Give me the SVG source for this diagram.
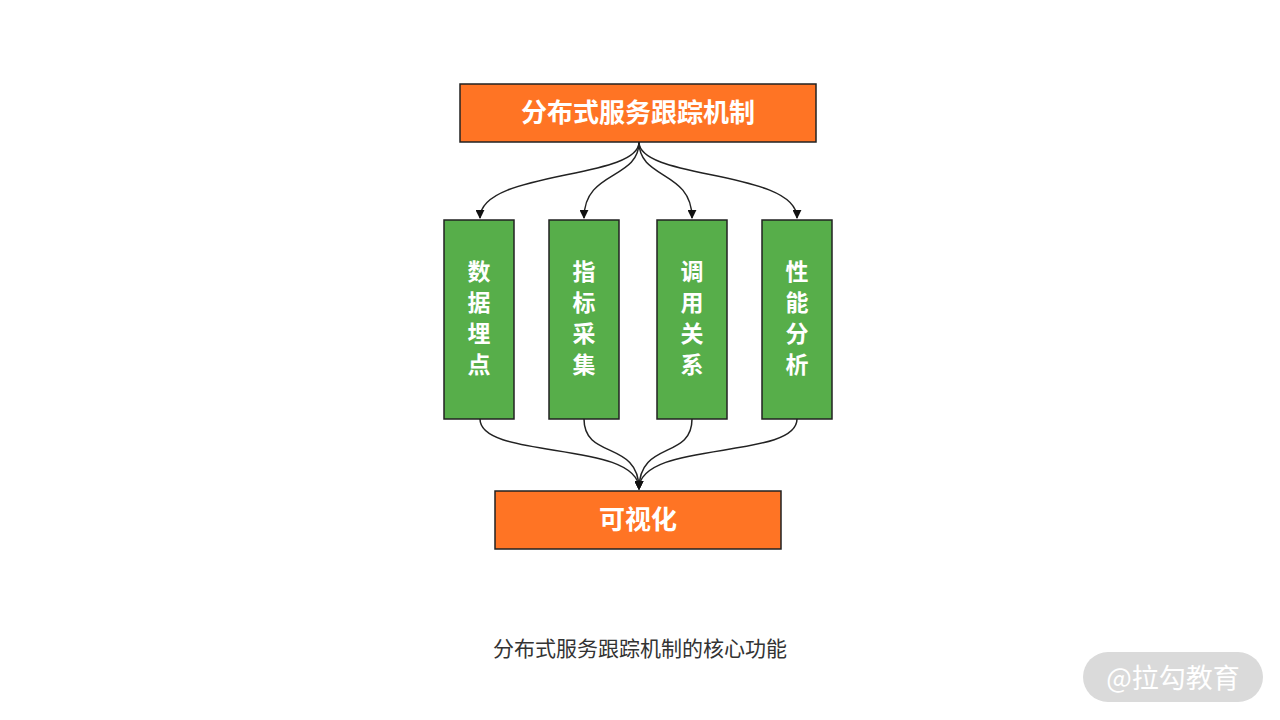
<svg xmlns="http://www.w3.org/2000/svg" width="1280" height="720" viewBox="0 0 1280 720">
<defs>
<style>
.orange{fill:#FF7424;stroke:#222;stroke-width:1.5}
.green{fill:#57AE4A;stroke:#222;stroke-width:1.5}
.lbl{font-family:"Noto Sans CJK SC","Liberation Sans",sans-serif;font-weight:bold;fill:#fff;text-anchor:middle}
.conn{fill:none;stroke:#222;stroke-width:1.5}
</style>
<marker id="arr" viewBox="0 0 10 10" refX="9" refY="5" markerWidth="9" markerHeight="9" markerUnits="userSpaceOnUse" orient="auto"><path d="M0,0 L10,5 L0,10 z" fill="#111"/></marker>
</defs>
<rect width="1280" height="720" fill="#fff"/>
<g id="connectors">
<path class="conn" d="M639,142 C639,180 480,170 480,218" marker-end="url(#arr)"/>
<path class="conn" d="M639,142 C639,180 584,170 584,218" marker-end="url(#arr)"/>
<path class="conn" d="M639,142 C639,180 692,170 692,218" marker-end="url(#arr)"/>
<path class="conn" d="M639,142 C639,180 797,170 797,218" marker-end="url(#arr)"/>
<path class="conn" d="M480,419 C480,460 639,440 639,489" marker-end="url(#arr)"/>
<path class="conn" d="M584,419 C584,460 639,440 639,489" marker-end="url(#arr)"/>
<path class="conn" d="M692,419 C692,460 639,440 639,489" marker-end="url(#arr)"/>
<path class="conn" d="M797,419 C797,460 639,440 639,489" marker-end="url(#arr)"/>
</g>
<g id="top">
<rect class="orange" x="460" y="84" width="356" height="58"/>
<text class="lbl" x="638" y="122" font-size="26">分布式服务跟踪机制</text>
</g>
<g id="n1">
<rect class="green" x="444" y="220" width="70" height="199"/>
<text class="lbl" x="479" font-size="23"><tspan x="479" y="280">数</tspan><tspan x="479" y="311">据</tspan><tspan x="479" y="342">埋</tspan><tspan x="479" y="373">点</tspan></text>
</g>
<g id="n2">
<rect class="green" x="549" y="220" width="70" height="199"/>
<text class="lbl" x="584" font-size="23"><tspan x="584" y="280">指</tspan><tspan x="584" y="311">标</tspan><tspan x="584" y="342">采</tspan><tspan x="584" y="373">集</tspan></text>
</g>
<g id="n3">
<rect class="green" x="657" y="220" width="70" height="199"/>
<text class="lbl" x="692" font-size="23"><tspan x="692" y="280">调</tspan><tspan x="692" y="311">用</tspan><tspan x="692" y="342">关</tspan><tspan x="692" y="373">系</tspan></text>
</g>
<g id="n4">
<rect class="green" x="762" y="220" width="70" height="199"/>
<text class="lbl" x="797" font-size="23"><tspan x="797" y="280">性</tspan><tspan x="797" y="311">能</tspan><tspan x="797" y="342">分</tspan><tspan x="797" y="373">析</tspan></text>
</g>
<g id="bottom">
<rect class="orange" x="495" y="491" width="286" height="58"/>
<text class="lbl" x="638" y="529" font-size="26">可视化</text>
</g>
<text x="640" y="656" font-size="21" fill="#333" text-anchor="middle" font-family="Noto Sans CJK SC,Liberation Sans,sans-serif">分布式服务跟踪机制的核心功能</text>
<g id="watermark">
<rect x="1083" y="652" width="180" height="50" rx="25" fill="#DADADA"/>
<text x="1173" y="688" font-size="27" fill="#fff" text-anchor="middle" font-family="Noto Sans CJK SC,Liberation Sans,sans-serif">@拉勾教育</text>
</g>
</svg>
